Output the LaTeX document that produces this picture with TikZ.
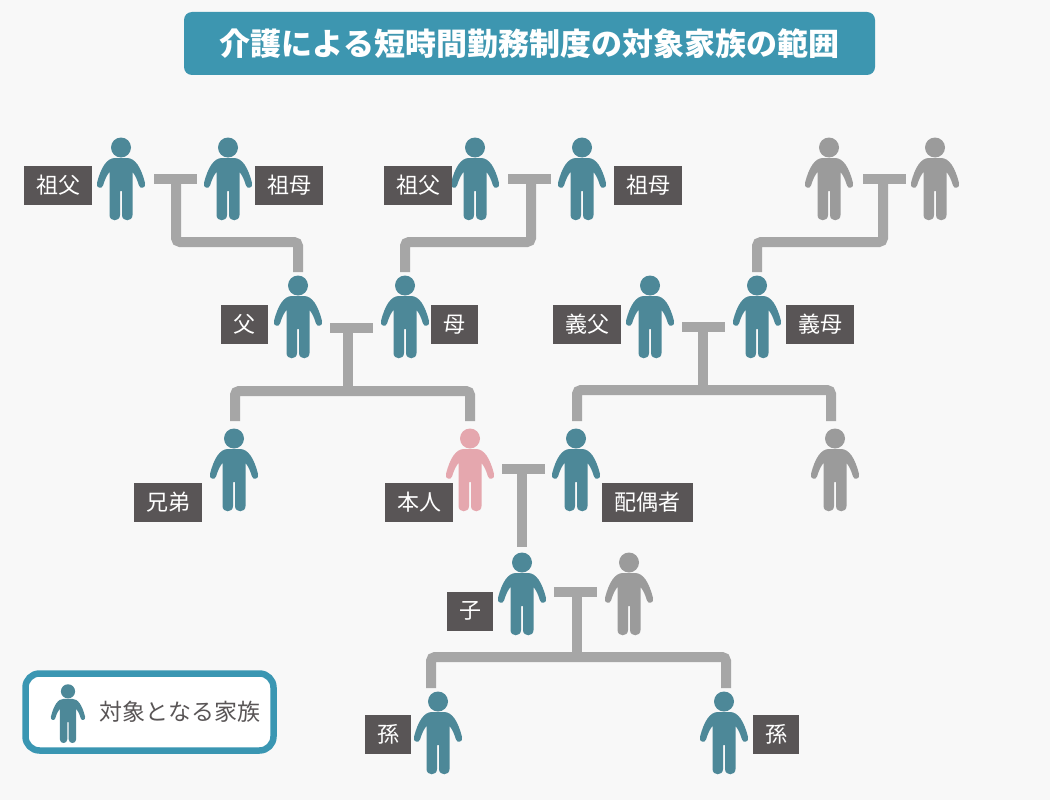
\documentclass[tikz,border=0pt]{standalone}
\usepackage{fontspec}
\setmainfont{Noto Sans CJK JP}
\usepackage{xcolor}
\usetikzlibrary{calc}
\definecolor{pagebg}{RGB}{248,248,248}
\definecolor{titleblue}{RGB}{61,150,176}
\definecolor{legendblue}{RGB}{58,150,178}
\definecolor{famteal}{RGB}{77,136,152}
\definecolor{selfpink}{RGB}{229,167,174}
\definecolor{othergray}{RGB}{155,155,155}
\definecolor{linkgray}{RGB}{166,166,166}
\definecolor{namegray}{RGB}{89,85,86}
\tikzset{
    person/.pic={
        \fill[#1] (0,0.5) circle[radius=10];
        \fill[#1] (-6,11) -- (6,11)
            .. controls (14,11) and (20,20) .. (24,36)
            .. controls (25.5,41) and (19,42.5) .. (18,38.5)
            .. controls (16,32) and (14,28) .. (11.5,25)
            -- (11.5,68)
            .. controls (11.5,75) and (1,75) .. (1,68)
            -- (1,44) -- (-1,44) -- (-1,68)
            .. controls (-1,75) and (-11.5,75) .. (-11.5,68)
            -- (-11.5,25)
            .. controls (-14,28) and (-16,32) .. (-18,38.5)
            .. controls (-19,42.5) and (-25.5,41) .. (-24,36)
            .. controls (-20,20) and (-14,11) .. (-6,11)
            -- cycle;
        \coordinate (-top) at (0,-13);
    },
    namebox/.style={
        fill=namegray,
        text=white,
        inner sep=0pt,
        minimum width=#1,
        minimum height=39pt,
        font=\fontsize{22}{26}\selectfont
    },
    namebox/.default=68pt,
    tbar/.style={
        fill=linkgray,
        inner sep=0pt,
        minimum width=43pt,
        minimum height=10pt
    },
    famline/.style={
        draw=linkgray,
        line width=10pt,
        rounded corners=4pt
    }
}

\begin{document}
\begin{tikzpicture}[x=1pt,y=-1pt]
    \useasboundingbox[fill=pagebg] (0,0) rectangle (1050,800);

    \node[
        fill=titleblue,
        rounded corners=8pt,
        minimum width=691pt,
        minimum height=63pt,
        inner sep=0pt,
        text=white,
        font=\fontsize{31}{36}\selectfont\bfseries
    ] (title) at (529.5,43.5) {介護による短時間勤務制度の対象家族の範囲};

    % grandparents
    \pic (gfa1) at (121,147) {person=famteal};
    \pic (gmo1) at (228,147) {person=famteal};
    \pic (gfa2) at (475,147) {person=famteal};
    \pic (gmo2) at (582,147) {person=famteal};
    \pic (gfa3) at (829,147) {person=othergray};
    \pic (gmo3) at (935,147) {person=othergray};
    % parents
    \pic (fa) at (298,285) {person=famteal};
    \pic (mo) at (405,285) {person=famteal};
    \pic (ifa) at (650,285) {person=famteal};
    \pic (imo) at (757,285) {person=famteal};
    % own generation
    \pic (bro) at (234,438) {person=famteal};
    \pic (self) at (470,438) {person=selfpink};
    \pic (spouse) at (576,438) {person=famteal};
    \pic (ibro) at (835,438) {person=othergray};
    % children
    \pic (child) at (522,562) {person=famteal};
    \pic (cspouse) at (629,562) {person=othergray};
    \pic (gc1) at (438,701) {person=famteal};
    \pic (gc2) at (724,701) {person=famteal};

    \node[namebox] (lgfa1) at (58,185.5) {祖父};
    \node[namebox] (lgmo1) at (289,185.5) {祖母};
    \node[namebox] (lgfa2) at (418,185.5) {祖父};
    \node[namebox] (lgmo2) at (648,185.5) {祖母};
    \node[namebox=47pt] (lfa) at (244.5,324.5) {父};
    \node[namebox=47pt] (lmo) at (454.5,324.5) {母};
    \node[namebox] (lifa) at (587,324.5) {義父};
    \node[namebox] (limo) at (820,324.5) {義母};
    \node[namebox] (lbro) at (168,502) {兄弟};
    \node[namebox] (lself) at (419,502) {本人};
    \node[namebox=91pt] (lspouse) at (647.5,502) {配偶者};
    \node[namebox=46pt] (lchild) at (470,611) {子};
    \node[namebox=46pt] (lgc1) at (388,734) {孫};
    \node[namebox=46pt] (lgc2) at (776,734) {孫};

    \node[tbar] (bar1) at (175.5,179) {};
    \node[tbar] (bar2) at (529.5,179) {};
    \node[tbar] (bar3) at (884.5,179) {};
    \node[tbar] (bar4) at (351.5,327.5) {};
    \node[tbar] (bar5) at (703.5,326.5) {};
    \node[tbar] (bar6) at (523.5,469) {};
    \node[tbar] (bar7) at (575.5,592) {};

    \coordinate (join1) at (176,242);
    \coordinate (join2) at (531,242);
    \coordinate (join3) at (883,242);
    \coordinate (join4) at (348,391);
    \coordinate (join5) at (703,390);
    \coordinate (join7) at (577,657);
    \coordinate (drop1) at (235,421);
    \coordinate (drop2) at (470,421);
    \coordinate (drop3) at (577,421);
    \coordinate (drop4) at (831,421);
    \coordinate (drop5) at (431,688);
    \coordinate (drop6) at (726,688);

    \draw[famline] (join1 |- bar1) -- (join1) -| (fa-top);
    \draw[famline] (join2 |- bar2) -- (join2) -| (mo-top);
    \draw[famline] (join3 |- bar3) -- (join3) -| (imo-top);
    \draw[famline] (join4 |- bar4) -- (join4);
    \draw[famline] (drop1) |- (join4) -| (drop2);
    \draw[famline] (join5 |- bar5) -- (join5);
    \draw[famline] (drop3) |- (join5) -| (drop4);
    \draw[famline, shorten >=2pt] (child-top |- bar6) -- (child-top);
    \draw[famline] (join7 |- bar7) -- (join7);
    \draw[famline] (drop5) |- (join7) -| (drop6);

    \node[
        draw=legendblue,
        line width=6.5pt,
        fill=white,
        rounded corners=14pt,
        minimum width=248pt,
        minimum height=77pt,
        inner sep=0pt
    ] (legend) at (149.5,712) {};
    \pic[scale=0.71] (lperson) at (68,691) {person=famteal};
    \node[
        inner sep=0pt,
        text=namegray,
        font=\fontsize{23}{27}\selectfont
    ] (legendtext) at (180,711.5) {対象となる家族};
\end{tikzpicture}
\end{document}
